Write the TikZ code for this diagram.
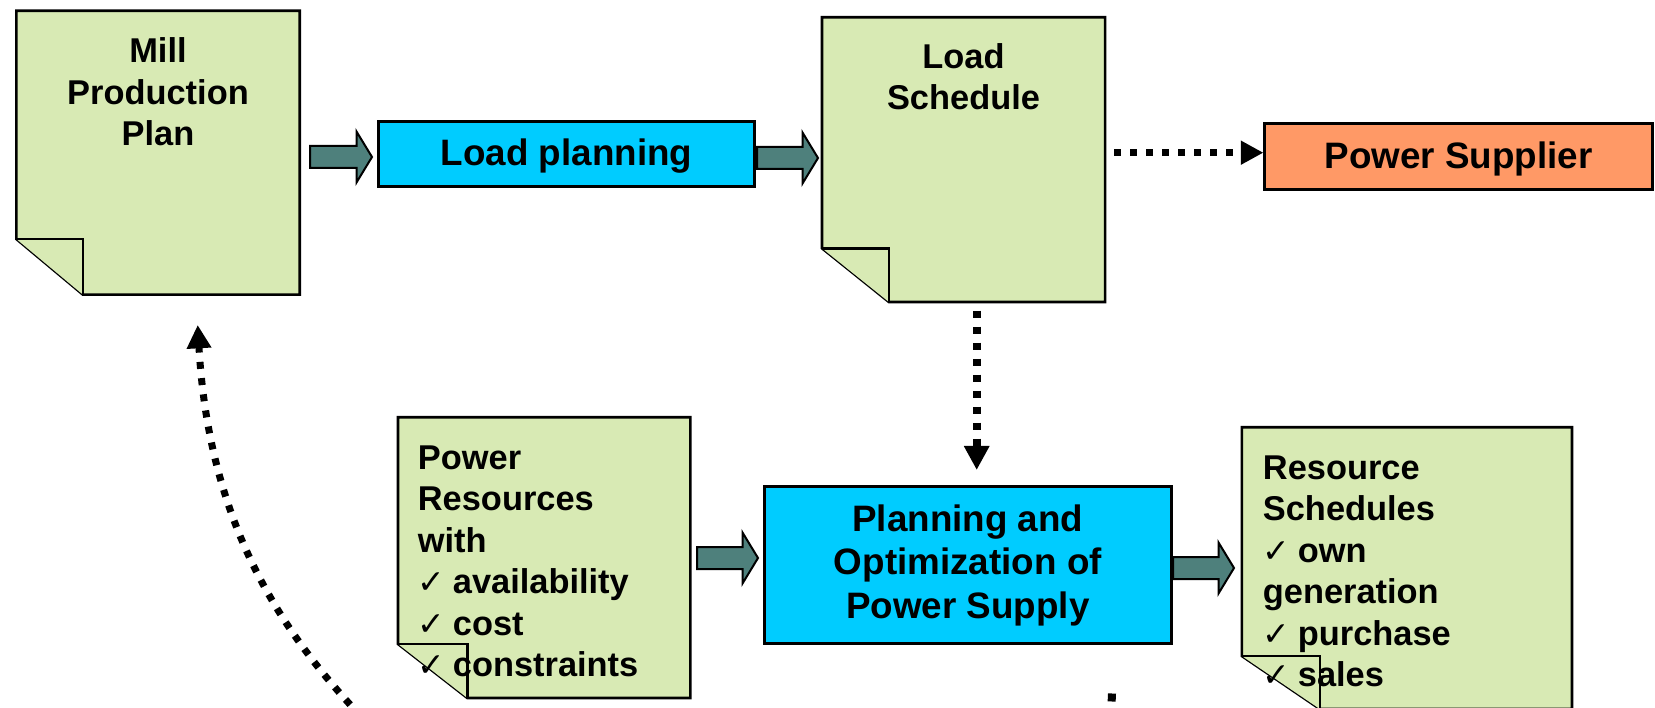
\documentclass[tikz,border=0pt]{standalone}
\usepackage{fontspec}
\setmainfont{Liberation Sans}
\newfontfamily\ckfont{DejaVu Sans}
\usetikzlibrary{arrows.meta,calc}
\definecolor{docgreen}{RGB}{216,234,180}
\definecolor{procblue}{RGB}{0,204,255}
\definecolor{suporange}{RGB}{255,153,102}
\definecolor{arrowteal}{RGB}{78,128,124}
\newcommand\ck{\makebox[35pt][l]{\ckfont\fontsize{33}{33}\selectfont ✓}}
% document shape with folded lower-left corner: L, T, R, B, flap width, flap height
\newcommand\mydoc[6]{%
  \filldraw[docline] (#1,#2) -- (#3,#2) -- (#3,#4) -- ({#1+#5},#4) -- (#1,{#4-#6}) -- cycle;
  \draw[docline] (#1,{#4-#6}) -- ({#1+#5},{#4-#6}) -- ({#1+#5},#4);}
% block arrow between two named coordinates
\newcommand\blockarrow[2]{%
  \filldraw[blockarr] let \p1=#1, \p2=#2 in
   ({\x1},{\y1+11pt}) -- ({\x2-15.5pt},{\y1+11pt}) -- ({\x2-15.5pt},{\y1+25.5pt}) -- ({\x2},{\y1})
   -- ({\x2-15.5pt},{\y1-25.5pt}) -- ({\x2-15.5pt},{\y1-11pt}) -- ({\x1},{\y1-11pt}) -- cycle;}
\begin{document}
\begin{tikzpicture}[x=1pt,y=-1pt,
  docline/.style={draw=black, fill=docgreen, line width=2.6pt, line join=miter},
  doctext/.style={inner sep=0pt, font=\bfseries\fontsize{34.4}{41.5}\selectfont},
  procbox/.style={draw=black, fill=procblue, line width=2.6pt, inner sep=0pt,
    font=\bfseries\fontsize{36.8}{43.5}\selectfont, align=center},
  supbox/.style={procbox, fill=suporange},
  blockarr/.style={draw=black, fill=arrowteal, line width=2pt, line join=miter},
  dotarrow/.style={line width=7.3pt, dash pattern=on 7.3pt off 8.7pt, line cap=butt},
]
\useasboundingbox (0,0) rectangle (1655,708);
\clip (0,0) rectangle (1655,708);
\fill[white] (0,0) rectangle (1655,708);

% documents
\mydoc{16.3}{10.8}{299.7}{294.7}{66.7}{55.7}
\mydoc{822}{17.3}{1105.1}{302}{66.9}{53.7}
\mydoc{398}{417.3}{690.4}{698}{69.3}{54}
\mydoc{1241.8}{427.3}{1572}{709}{78}{53}

% process boxes
\node[procbox, minimum width=376.4, minimum height=65.4, text height=30pt, text depth=7pt] (lp) at (566.5,154) {Load planning};
\node[supbox, minimum width=387.9, minimum height=66.1, text height=31pt, text depth=7pt] (ps) at (1458.7,156.35) {Power Supplier};
\node[procbox, minimum width=407.1, minimum height=157.4] (plan) at (967.85,565) {Planning and\\Optimization of\\Power Supply};

% document texts (anchored at the baseline of their last line)
\node[doctext, align=center, anchor=base] (mill) at (158,145.7) {Mill\\Production\\Plan};
\node[doctext, align=center, anchor=base] (loadsch) at (963.5,110) {Load\\Schedule};
\node[doctext, align=left, anchor=base west] (powres) at (417.7,676.7)
  {Power\\Resources\\with\\\ck availability\\\ck cost\\\ck constraints};
\node[doctext, align=left, anchor=base west] (ressch) at (1262.7,686.7)
  {Resource\\Schedules\\\ck own\\generation\\\ck purchase\\\ck sales};

% block arrows
\coordinate (a1s) at (310,157);  \coordinate (a1e) at (372,157);
\coordinate (a2s) at (757,158);  \coordinate (a2e) at (818,158);
\coordinate (a3s) at (697,558);  \coordinate (a3e) at (758,558);
\coordinate (a4s) at (1173,568); \coordinate (a4e) at (1234,568);
\blockarrow{(a1s)}{(a1e)}
\blockarrow{(a2s)}{(a2e)}
\blockarrow{(a3s)}{(a3e)}
\blockarrow{(a4s)}{(a4e)}

% dotted connectors
\coordinate (hs) at (1114,152.7);
\draw[dotarrow, -{Triangle[length=22.7pt,width=22.7pt]}] (hs) -- (hs -| ps.west);
\coordinate (vs) at (976.7,310.7);
\coordinate (ve) at (976.7,470);
\draw[dotarrow, line width=7.6pt, dash pattern=on 7.6pt off 8.4pt, -{Triangle[length=24pt,width=24pt]}] (vs) -- (ve);
\coordinate (cs) at (384,740);
\coordinate (ce) at (197.7,325);
\draw[dotarrow, line width=7pt, dash pattern=on 7pt off 9.3pt, -{Triangle[length=23.3pt,width=23.3pt]}]
  (cs) .. controls (294,650) and (210,540) .. (ce);
\coordinate (bs) at (1112,693.5);
\coordinate (be) at (1109,760);
\draw[dotarrow, line width=8pt, dash pattern=on 8pt off 8.3pt] (bs) -- (be);
\end{tikzpicture}
\end{document}
